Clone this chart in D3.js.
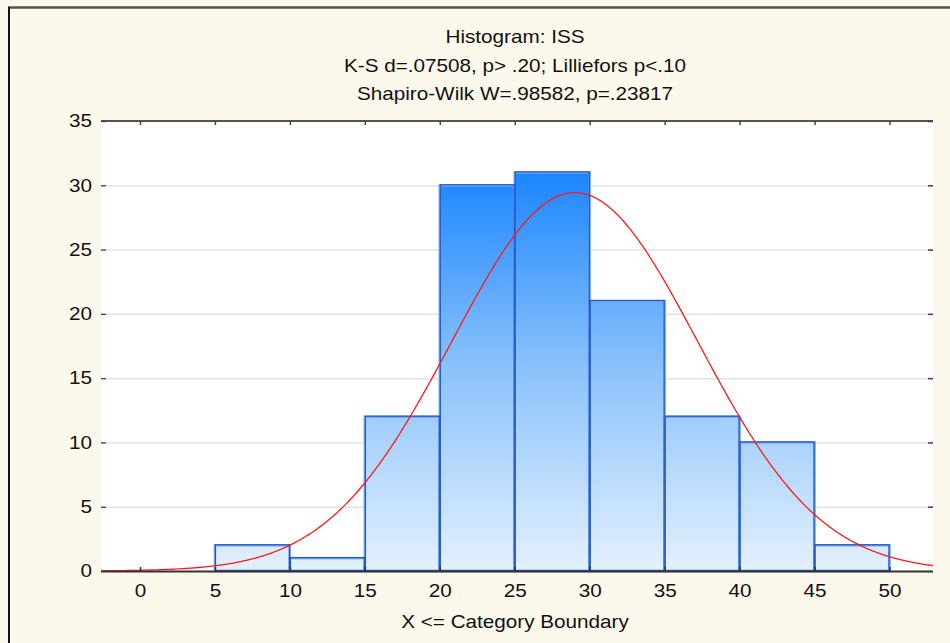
<!DOCTYPE html>
<html><head><meta charset="utf-8">
<script src="https://cdn.jsdelivr.net/npm/d3@7"></script>
<style>
html,body{margin:0;padding:0;background:#fdf8ec;}
svg{display:block;}
text{font-family:"Liberation Sans",Arial,sans-serif;fill:#111;}
</style></head>
<body>
<svg id="c" width="950" height="643"></svg>
<script>
// ---- data ----
const binStarts = [0, 5, 10, 15, 20, 25, 30, 35, 40, 45];
const binEnds   = [5, 10, 15, 20, 25, 30, 35, 40, 45, 50];
const counts    = [0, 2, 1, 12, 30, 31, 21, 12, 10, 2];
const xTicks = [0, 5, 10, 15, 20, 25, 30, 35, 40, 45, 50];
const yTicks = [0, 5, 10, 15, 20, 25, 30, 35];
const titleLines = ["Histogram: ISS", "K-S d=.07508, p> .20; Lilliefors p<.10", "Shapiro-Wilk W=.98582, p=.23817"];
const xTitle = "X <= Category Boundary";
// fitted normal curve parameters
const fitMean = 29.0, fitSD = 8.2, fitN = 121, binWidth = 5;

(function(){
const svg = d3.select("#c");
const W = 950, H = 643;
const L = 101, R = 933, T = 121, B = 571;
const FS = 18, SX = 1.15;

const x = d3.scaleLinear().domain([-2.6, 52.9]).range([L, R]);
const y = d3.scaleLinear().domain([0, 35]).range([B, T]);

// frame
svg.append("rect").attr("x",0).attr("y",0).attr("width",W).attr("height",H).attr("fill","#fdf8ec");
svg.append("line").attr("x1",8).attr("x2",W).attr("y1",7.5).attr("y2",7.5).attr("stroke","#555").attr("stroke-width",2.5);
svg.append("line").attr("x1",9).attr("x2",9).attr("y1",7).attr("y2",H).attr("stroke","#111").attr("stroke-width",2);

// plot area
svg.append("rect").attr("x",L).attr("y",T).attr("width",R-L).attr("height",B-T).attr("fill","#fff");

// gradient
const defs = svg.append("defs");
const g = defs.append("linearGradient").attr("id","bg").attr("gradientUnits","userSpaceOnUse")
  .attr("x1",0).attr("x2",0).attr("y1",y(31)).attr("y2",y(0));
g.append("stop").attr("offset",0).attr("stop-color","#1c86ff");
g.append("stop").attr("offset",0.5).attr("stop-color","#8cc3fb");
g.append("stop").attr("offset",1).attr("stop-color","#e4f0fd");
const clip = defs.append("clipPath").attr("id","pc");
clip.append("rect").attr("x",L).attr("y",T).attr("width",R-L).attr("height",B-T);

// gridlines
svg.append("g").selectAll("line").data(yTicks.filter(d=>d>0 && d<35)).join("line")
  .attr("x1",L).attr("x2",R).attr("y1",d=>y(d)+0.5).attr("y2",d=>y(d)+0.5)
  .attr("stroke","#e2e2e2").attr("stroke-width",1.5);

// bars
const bars = binStarts.map((s,i)=>({s, e:binEnds[i], c:counts[i]})).filter(d=>d.c>0);
const barG = svg.append("g");
barG.selectAll("rect.bar").data(bars).join("rect").attr("class","bar")
  .attr("x",d=>x(d.s)).attr("width",d=>x(d.e)-x(d.s))
  .attr("y",d=>y(d.c)).attr("height",d=>y(0)-y(d.c))
  .attr("fill","url(#bg)").attr("stroke","#78abee").attr("stroke-width",2.5);
barG.selectAll("rect.edge").data(bars).join("rect").attr("class","edge")
  .attr("x",d=>x(d.s)+0.5).attr("width",d=>x(d.e)-x(d.s)-1)
  .attr("y",d=>y(d.c)-0.5).attr("height",d=>y(0)-y(d.c))
  .attr("fill","none").attr("stroke","#1f55cc").attr("stroke-width",1.2);

// normal curve
const curvePts = d3.range(-2.6, 52.95, 0.1).map(v=>[v, fitN*binWidth*Math.exp(-0.5*((v-fitMean)/fitSD)**2)/(fitSD*Math.sqrt(2*Math.PI))]);
svg.append("path").datum(curvePts).attr("clip-path","url(#pc)")
  .attr("d", d3.line().x(d=>x(d[0])).y(d=>y(d[1])))
  .attr("fill","none").attr("stroke","#ff1a1a").attr("stroke-width",1.3);

// axes
const axB = svg.append("g").attr("transform",`translate(0,${B})`)
  .call(d3.axisBottom(x).tickValues(xTicks).tickSize(-4).tickPadding(13));
axB.select(".domain").attr("d",`M${L},0.5H${R}`).attr("stroke","#333").attr("stroke-width",2);
axB.selectAll(".tick line").attr("stroke","#333").attr("stroke-width",1.5);
axB.selectAll("text").attr("font-size",FS).attr("font-family","Liberation Sans, Arial, sans-serif").attr("fill","#111")
  .attr("transform",`scale(${SX},1)`);

const axT = svg.append("g").attr("transform",`translate(0,${T})`)
  .call(d3.axisTop(x).tickValues(xTicks).tickSize(-4).tickFormat(""));
axT.select(".domain").attr("d",`M${L},0H${R}`).attr("stroke","#555").attr("stroke-width",2);
axT.selectAll(".tick line").attr("stroke","#444").attr("stroke-width",1.5);

const axL = svg.append("g").attr("transform",`translate(${L},0)`)
  .call(d3.axisLeft(y).tickValues(yTicks).tickSize(-5).tickPadding(9));
axL.select(".domain").remove();
axL.selectAll(".tick line").attr("stroke","#444").attr("stroke-width",1.3);
axL.selectAll("text").attr("font-size",FS).attr("font-family","Liberation Sans, Arial, sans-serif").attr("fill","#111")
  .attr("x",0).attr("transform",`translate(-9,0) scale(${SX},1)`);

const axR = svg.append("g").attr("transform",`translate(${R},0)`)
  .call(d3.axisRight(y).tickValues(yTicks).tickSize(-5).tickFormat(""));
axR.select(".domain").remove();
axR.selectAll(".tick line").attr("stroke","#444").attr("stroke-width",1.5);

// titles
svg.append("g").selectAll("text").data(titleLines).join("text")
  .attr("transform",(d,i)=>`translate(515,${43+i*28.5}) scale(${SX},1)`).attr("text-anchor","middle")
  .attr("font-size",FS).text(d=>d);
svg.append("text").attr("transform",`translate(515,628) scale(${SX},1)`).attr("text-anchor","middle")
  .attr("font-size",FS).text(xTitle);
})();
</script>
</body></html>
